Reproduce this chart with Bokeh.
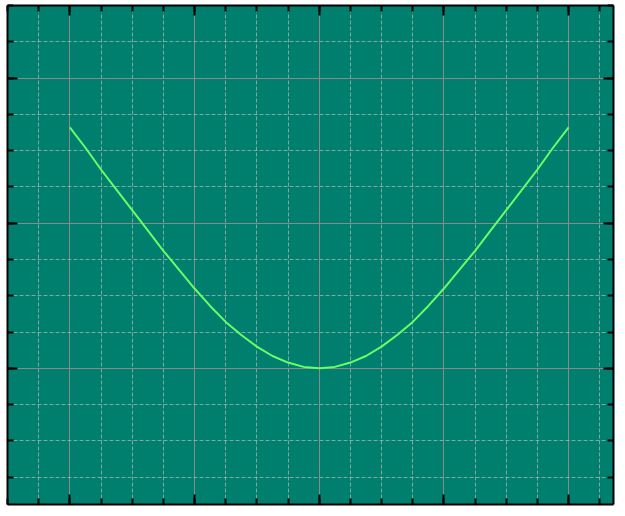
from bokeh.plotting import figure
from bokeh.models import LinearAxis, SingleIntervalTicker, Range1d, CustomLabelingPolicy
from bokeh.embed import file_html
from bokeh.resources import INLINE

# Data
x_vals = [-2.0, -1.875, -1.75, -1.625, -1.5, -1.375, -1.25, -1.125, -1.0, -0.875, -0.75,
          -0.625, -0.5, -0.375, -0.25, -0.125, 0.0, 0.125, 0.25, 0.375, 0.5, 0.625,
          0.75, 0.875, 1.0, 1.125, 1.25, 1.375, 1.5, 1.625, 1.75, 1.875, 2.0]
y_vals = [1.66, 1.52, 1.37, 1.23, 1.09, 0.95, 0.81, 0.68, 0.55, 0.43, 0.32,
          0.23, 0.15, 0.085, 0.04, 0.01, 0.0, 0.01, 0.04, 0.085, 0.15, 0.23,
          0.32, 0.43, 0.55, 0.68, 0.81, 0.95, 1.09, 1.23, 1.37, 1.52, 1.66]

x_start, x_end = -2.5, 2.36
y_start, y_end = -0.938, 2.5

p = figure(width=617, height=508, output_backend="svg", toolbar_location=None,
           x_range=Range1d(x_start, x_end), y_range=Range1d(y_start, y_end),
           min_border=0, min_border_left=7, min_border_right=0,
           min_border_top=5, min_border_bottom=0)
p.background_fill_color = "#007f6e"
p.border_fill_color = "white"
p.outline_line_color = None

xt = SingleIntervalTicker(interval=1, num_minor_ticks=4)
yt = SingleIntervalTicker(interval=1, num_minor_ticks=4)

p.xaxis.ticker = xt
p.yaxis.ticker = yt
p.add_layout(LinearAxis(ticker=xt), "above")
p.add_layout(LinearAxis(ticker=yt), "right")

no_labels = CustomLabelingPolicy(code="""
const keep = [...indices];
for (const i of keep) indices.unset(i);
return indices;
""")

for ax in p.axis:
    ax.major_label_policy = no_labels
    ax.major_label_text_font_size = "1px"
    ax.major_label_standoff = 0
    ax.major_tick_in = 10
    ax.major_tick_out = 0
    ax.minor_tick_in = 6
    ax.minor_tick_out = 0
    ax.axis_line_width = 2
    ax.axis_line_color = "black"
    ax.major_tick_line_width = 2
    ax.minor_tick_line_width = 2
    ax.major_tick_line_color = "black"
    ax.minor_tick_line_color = "black"

for g in (p.xgrid, p.ygrid):
    g.grid_line_color = "#8a8a8a"
    g.grid_line_width = 1
    g.minor_grid_line_color = "#c0c0c0"
    g.minor_grid_line_alpha = 0.65
    g.minor_grid_line_dash = "4 2"
    g.minor_grid_line_width = 1
p.xgrid.ticker = xt
p.ygrid.ticker = yt

p.line(x_vals, y_vals, line_color="#66ff66", line_width=2)

open("out.html", "w").write(file_html(p, INLINE))
